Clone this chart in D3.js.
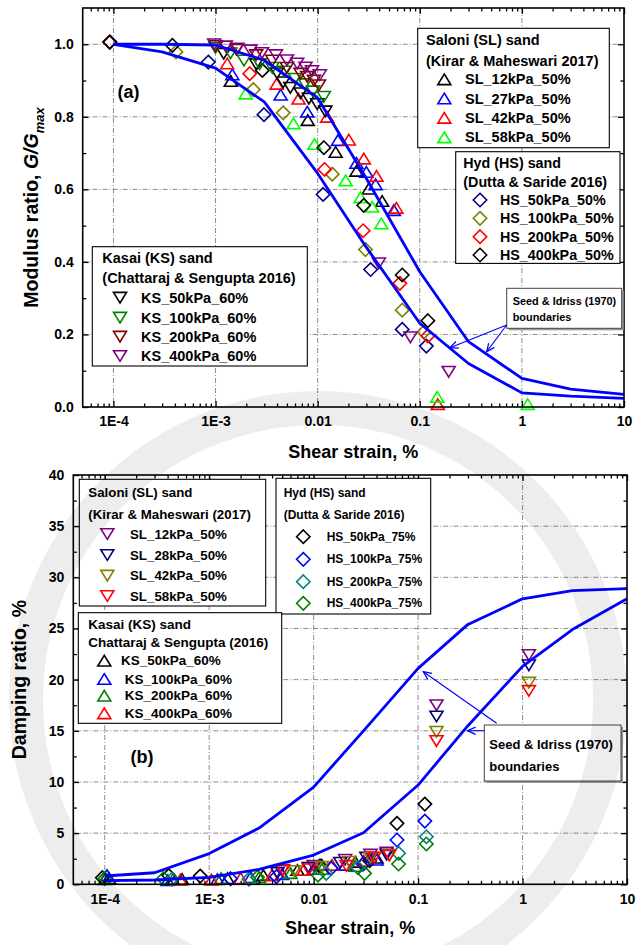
<!DOCTYPE html>
<html>
<head>
<meta charset="utf-8">
<script src="https://cdn.jsdelivr.net/npm/d3@7"></script>
<style>
  body { margin: 0; background: #fff; }
  svg { display: block; font-family: "Liberation Sans", Arial, sans-serif; font-weight: bold; }
</style>
</head>
<body>
<svg id="chart" width="636" height="945"></svg>
<script>
// ---------- axis ticks ----------
const xTickValues = [1e-4, 1e-3, 1e-2, 1e-1, 1, 10];
const xTickLabels = ["1E-4", "1E-3", "0.01", "0.1", "1", "10"];
const gTickValues = [0, 0.2, 0.4, 0.6, 0.8, 1.0];
const gTickLabels = ["0.0", "0.2", "0.4", "0.6", "0.8", "1.0"];
const gMinorTicks = [0.1, 0.3, 0.5, 0.7, 0.9];
const dTickValues = [0, 5, 10, 15, 20, 25, 30, 35, 40];
const dTickLabels = ["0", "5", "10", "15", "20", "25", "30", "35", "40"];
const dMinorTicks = [2.5, 7.5, 12.5, 17.5, 22.5, 27.5, 32.5, 37.5];

// ---------- Seed & Idriss (1970) range for sands ----------
const siStrain = [1e-4, 3e-4, 1e-3, 3e-3, 0.01, 0.03, 0.1, 0.3, 1, 3, 10];
const siGUpper = [1.0, 1.0, 0.998, 0.956, 0.852, 0.63, 0.373, 0.18, 0.079, 0.049, 0.035];
const siGLower = [1.0, 0.979, 0.934, 0.841, 0.644, 0.44, 0.231, 0.12, 0.039, 0.03, 0.024];
const siDUpper = [0.81, 1.13, 3.0, 5.5, 9.5, 15.0, 21.1, 25.4, 27.9, 28.7, 28.9];
const siDLower = [0.35, 0.42, 0.68, 1.46, 2.86, 5.04, 9.7, 15.5, 21.3, 24.9, 27.9];

// ---------- (a) modulus ratio G/Gmax : [strain %, G/Gmax] ----------
const gSL12 = [[1.41e-3, 0.899], [8.0e-3, 0.791], [0.015, 0.703], [0.024, 0.651], [0.0317, 0.602], [0.0428, 0.568]];
const gSL27 = [[1.46e-3, 0.917], [4.34e-3, 0.861], [7.9e-3, 0.814], [0.0158, 0.736], [0.024, 0.673], [0.030, 0.648], [0.0369, 0.614], [0.0557, 0.543]];
const gSL42 = [[1.3e-3, 0.947], [3.96e-3, 0.891], [6.5e-3, 0.85], [0.0124, 0.80], [0.0202, 0.737], [0.0283, 0.685], [0.0377, 0.637], [0.059, 0.549], [0.15, 0.008]];
const gSL58 = [[1.97e-3, 0.864], [5.8e-3, 0.782], [9.3e-3, 0.725], [0.0188, 0.625], [0.0263, 0.578], [0.0342, 0.552], [0.042, 0.506], [0.148, 0.028], [1.14, 0.008]];

const gHS50 = [[9.2e-5, 1.006], [8.5e-4, 0.951], [2.98e-3, 0.806], [0.0113, 0.586], [0.033, 0.379], [0.0673, 0.214], [0.116, 0.168]];
const gHS100 = [[9.2e-5, 1.006], [4.1e-4, 0.979], [2.34e-3, 0.875], [4.6e-3, 0.811], [0.0139, 0.642], [0.0294, 0.434], [0.0673, 0.267], [0.11, 0.207]];
const gHS200 = [[9.2e-5, 1.006], [2.16e-3, 0.919], [0.0117, 0.655], [0.0279, 0.486], [0.0638, 0.341], [0.12, 0.196]];
const gHS400 = [[9.2e-5, 1.006], [3.78e-4, 0.997], [2.87e-3, 0.928], [0.0115, 0.715], [0.0283, 0.556], [0.0673, 0.364], [0.12, 0.238]];

const gKS50 = [[1.2e-3, 0.974], [2.5e-3, 0.945], [4.0e-3, 0.92], [4.6e-3, 0.895], [5.4e-3, 0.88], [6.8e-3, 0.865], [8.2e-3, 0.85], [9.9e-3, 0.835], [0.0119, 0.815]];
const gKS100 = [[1.0e-3, 0.99], [1.4e-3, 0.975], [1.9e-3, 0.955], [2.7e-3, 0.945], [3.6e-3, 0.935], [4.7e-3, 0.925], [6.0e-3, 0.905], [7.5e-3, 0.89], [9.0e-3, 0.87], [0.0115, 0.855]];
const gKS200 = [[1.0e-3, 0.995], [1.6e-3, 0.985], [2.5e-3, 0.97], [3.6e-3, 0.955], [5.0e-3, 0.935], [6.8e-3, 0.919], [7.9e-3, 0.91], [9.2e-3, 0.90], [0.0103, 0.887]];
const gKS400 = [[9.7e-4, 1.0], [1.26e-3, 0.994], [1.64e-3, 0.988], [2.2e-3, 0.983], [2.85e-3, 0.976], [3.9e-3, 0.97], [5.0e-3, 0.956], [6.3e-3, 0.947], [7.6e-3, 0.936], [8.8e-3, 0.926], [0.0105, 0.915], [0.0397, 0.396], [0.081, 0.192], [0.192, 0.097]];

// ---------- (b) damping ratio : [strain %, D %] ----------
const dSL12 = [[5.0e-3, 1.3], [0.01, 1.8], [0.02, 2.4], [0.035, 2.9], [0.05, 3.1], [0.15, 17.5], [1.15, 22.4]];
const dSL28 = [[4.5e-3, 1.1], [9.0e-3, 1.6], [0.018, 2.1], [0.032, 2.6], [0.05, 2.9], [0.15, 16.4], [1.15, 21.4]];
const dSL42 = [[6.5e-3, 1.3], [0.012, 1.7], [0.022, 2.2], [0.035, 2.6], [0.053, 2.86], [0.15, 14.9], [1.15, 19.7]];
const dSL58 = [[5.1e-3, 1.4], [9.0e-3, 1.46], [0.0206, 1.8], [0.038, 2.6], [0.053, 2.8], [0.15, 14.0], [1.15, 18.9]];

const dHS50 = [[9.5e-5, 0.65], [4.1e-4, 0.85], [8.2e-4, 0.8], [0.0115, 1.8], [0.0344, 2.3], [0.0628, 5.96], [0.116, 7.84]];
const dHS100 = [[1.6e-3, 0.55], [4.4e-3, 0.75], [0.0147, 1.56], [0.03, 1.98], [0.0628, 4.33], [0.116, 6.18]];
const dHS200 = [[4.4e-4, 0.5], [2.4e-3, 0.5], [0.0132, 1.07], [0.0265, 1.62], [0.065, 3.03], [0.12, 4.65]];
const dHS400 = [[1.0e-4, 0.55], [3.65e-4, 0.55], [2.9e-3, 0.7], [0.011, 0.9], [0.0307, 1.07], [0.065, 1.98], [0.12, 3.94]];

const dKS50 = [[1.1e-4, 0.6], [5.5e-4, 0.5], [1.5e-3, 0.6], [3.3e-3, 0.9], [7.0e-3, 1.4], [0.012, 1.9], [0.025, 2.2], [0.04, 2.6]];
const dKS100 = [[1.05e-4, 0.9], [4.0e-4, 0.4], [1.2e-3, 0.5], [2.5e-3, 0.7], [5.0e-3, 1.0], [0.01, 1.5], [0.02, 1.9], [0.04, 2.4]];
const dKS200 = [[1.0e-4, 0.5], [4.5e-4, 0.5], [1.3e-3, 0.6], [3.0e-3, 0.7], [6.0e-3, 1.1], [0.012, 1.5], [0.025, 1.8]];
const dKS400 = [[5.3e-4, 0.45], [1.05e-3, 0.45], [2.0e-3, 0.6], [4.0e-3, 0.9], [8.0e-3, 1.4], [0.015, 1.9], [0.03, 2.3]];

// ---------- series tables ----------
const seriesA = [
  { label: "SL_12kPa_50%", shape: "up", color: "#000000", data: gSL12 },
  { label: "SL_27kPa_50%", shape: "up", color: "#0000ff", data: gSL27 },
  { label: "SL_42kPa_50%", shape: "up", color: "#ff0000", data: gSL42 },
  { label: "SL_58kPa_50%", shape: "up", color: "#00ff00", data: gSL58 },
  { label: "HS_50kPa_50%", shape: "diamond", color: "#000080", data: gHS50 },
  { label: "HS_100kPa_50%", shape: "diamond", color: "#808000", data: gHS100 },
  { label: "HS_200kPa_50%", shape: "diamond", color: "#ff0000", data: gHS200 },
  { label: "HS_400kPa_50%", shape: "diamond", color: "#000000", data: gHS400 },
  { label: "KS_50kPa_60%", shape: "down", color: "#000000", data: gKS50 },
  { label: "KS_100kPa_60%", shape: "down", color: "#008000", data: gKS100 },
  { label: "KS_200kPa_60%", shape: "down", color: "#800000", data: gKS200 },
  { label: "KS_400kPa_60%", shape: "down", color: "#800080", data: gKS400 }
];
const seriesB = [
  { label: "KS_50kPa_60%", shape: "up", color: "#000000", data: dKS50 },
  { label: " KS_100kPa_60%", shape: "up", color: "#0000ff", data: dKS100 },
  { label: " KS_200kPa_60%", shape: "up", color: "#008000", data: dKS200 },
  { label: " KS_400kPa_60%", shape: "up", color: "#ff0000", data: dKS400 },
  { label: "HS_50kPa_75%", shape: "diamond", color: "#000000", data: dHS50 },
  { label: "HS_100kPa_75%", shape: "diamond", color: "#0000ff", data: dHS100 },
  { label: "HS_200kPa_75%", shape: "diamond", color: "#008080", data: dHS200 },
  { label: "HS_400kPa_75%", shape: "diamond", color: "#008000", data: dHS400 },
  { label: "SL_12kPa_50%", shape: "down", color: "#800080", data: dSL12 },
  { label: "SL_28kPa_50%", shape: "down", color: "#000080", data: dSL28 },
  { label: "SL_42kPa_50%", shape: "down", color: "#808000", data: dSL42 },
  { label: "SL_58kPa_50%", shape: "down", color: "#ff0000", data: dSL58 }
];

// ---------- helpers ----------
const svg = d3.select("#chart");
const CURVE = "#0000ff";

const shapes = {
  up: "M0,-5.3L6.5,5.3L-6.5,5.3Z",
  down: "M0,5.3L6.5,-5.3L-6.5,-5.3Z",
  diamond: "M0,-6.7L6.7,0L0,6.7L-6.7,0Z"
};

svg.append("defs").append("marker")
  .attr("id", "arrow").attr("viewBox", "0 0 10 10")
  .attr("refX", 9).attr("refY", 5)
  .attr("markerWidth", 9).attr("markerHeight", 9)
  .attr("markerUnits", "userSpaceOnUse")
  .attr("orient", "auto")
  .append("path").attr("d", "M0,1L9,5L0,9").attr("fill", "none")
  .attr("stroke", CURVE).attr("stroke-width", 1.4);

function minorLogTicks(lo, hi) {
  const out = [];
  for (let e = -5; e <= 1; e++) {
    for (let k = 2; k <= 9; k++) {
      const v = k * Math.pow(10, e);
      if (v > lo * 1.01 && v < hi * 0.99) out.push(v);
    }
  }
  return out;
}

function styleAxis(sel, fs) {
  sel.select(".domain").remove();
  sel.attr("font-size", null).attr("font-family", null);
  sel.selectAll("line").attr("stroke", "#000").attr("stroke-width", 1.3);
  sel.selectAll("text").attr("font-size", fs).attr("fill", "#000");
}

function drawPanel(p) {
  const g = svg.append("g");
  const x = d3.scaleLog().domain([5e-5, 10]).range([p.left, p.right]);
  const y = d3.scaleLinear().domain(p.yDomain).range([p.bottom, p.top]);

  // dash-dot grid at major ticks
  const grid = g.append("g").attr("stroke", "#8c8c8c").attr("stroke-width", 1)
    .attr("stroke-dasharray", "5,2,1,2");
  grid.selectAll(".gx").data(xTickValues.filter(v => x(v) < p.right - 1)).join("line")
    .attr("x1", d => x(d)).attr("x2", d => x(d)).attr("y1", p.top).attr("y2", p.bottom);
  grid.selectAll(".gy").data(p.yTicks.filter(v => y(v) > p.top + 1 && y(v) < p.bottom - 1)).join("line")
    .attr("x1", p.left).attr("x2", p.right).attr("y1", d => y(d)).attr("y2", d => y(d));

  // data markers
  p.series.forEach(s => {
    g.append("g").selectAll("path").data(s.data).join("path")
      .attr("d", shapes[s.shape])
      .attr("transform", d => `translate(${x(d[0])},${y(d[1])})`)
      .attr("fill", "none").attr("stroke", s.color).attr("stroke-width", 1.6);
  });

  // Seed & Idriss boundary curves
  const line = d3.line().x(d => x(d[0])).y(d => y(d[1]));
  p.curves.forEach(c => {
    g.append("path").datum(siStrain.map((s, i) => [s, c[i]]))
      .attr("d", line).attr("fill", "none")
      .attr("stroke", CURVE).attr("stroke-width", 2.8).attr("stroke-linejoin", "round");
  });

  // axes: inward ticks on all four sides
  const minor = minorLogTicks(5e-5, 10);
  const bottom = g.append("g").attr("transform", `translate(0,${p.bottom})`)
    .call(d3.axisBottom(x).tickValues(xTickValues).tickFormat((d, i) => xTickLabels[i])
      .tickSizeInner(-6).tickSizeOuter(0).tickPadding(9.5));
  styleAxis(bottom, 14);
  const bottomMinor = g.append("g").attr("transform", `translate(0,${p.bottom})`)
    .call(d3.axisBottom(x).tickValues(minor).tickFormat("").tickSizeInner(-3.5).tickSizeOuter(0));
  styleAxis(bottomMinor, 14);
  const top = g.append("g").attr("transform", `translate(0,${p.top})`)
    .call(d3.axisTop(x).tickValues(xTickValues).tickFormat("").tickSizeInner(-6).tickSizeOuter(0));
  styleAxis(top, 14);
  const topMinor = g.append("g").attr("transform", `translate(0,${p.top})`)
    .call(d3.axisTop(x).tickValues(minor).tickFormat("").tickSizeInner(-3.5).tickSizeOuter(0));
  styleAxis(topMinor, 14);

  const left = g.append("g").attr("transform", `translate(${p.left},0)`)
    .call(d3.axisLeft(y).tickValues(p.yTicks).tickFormat((d, i) => p.yLabels[i])
      .tickSizeInner(-6).tickSizeOuter(0).tickPadding(9));
  styleAxis(left, 14);
  const leftMinor = g.append("g").attr("transform", `translate(${p.left},0)`)
    .call(d3.axisLeft(y).tickValues(p.yMinor).tickFormat("").tickSizeInner(-3.5).tickSizeOuter(0));
  styleAxis(leftMinor, 14);
  const right = g.append("g").attr("transform", `translate(${p.right},0)`)
    .call(d3.axisRight(y).tickValues(p.yTicks).tickFormat("").tickSizeInner(-6).tickSizeOuter(0));
  styleAxis(right, 14);
  const rightMinor = g.append("g").attr("transform", `translate(${p.right},0)`)
    .call(d3.axisRight(y).tickValues(p.yMinor).tickFormat("").tickSizeInner(-3.5).tickSizeOuter(0));
  styleAxis(rightMinor, 14);

  // frame
  g.append("rect").attr("x", p.left).attr("y", p.top)
    .attr("width", p.right - p.left).attr("height", p.bottom - p.top)
    .attr("fill", "none").attr("stroke", "#000").attr("stroke-width", 1.6);

  // axis titles
  g.append("text").attr("x", (p.left + p.right) / 2).attr("y", p.xTitleY)
    .attr("text-anchor", "middle").attr("font-size", 18).text("Shear strain, %");
  const yt = g.append("text")
    .attr("transform", `translate(${p.yTitleX},${(p.top + p.bottom) / 2}) rotate(-90)`)
    .attr("text-anchor", "middle").attr("font-size", 19.5);
  p.yTitle(yt);

  // panel tag
  g.append("text").attr("x", p.tag[0]).attr("y", p.tag[1]).attr("text-anchor", "middle")
    .attr("dominant-baseline", "central").attr("font-size", 18).text(p.tag[2]);

  return g;
}

function drawLegend(g, box, titles, entries, fs) {
  const lg = g.append("g");
  lg.append("rect").attr("x", box.x).attr("y", box.y).attr("width", box.w).attr("height", box.h)
    .attr("fill", "#fff").attr("stroke", "#000").attr("stroke-width", 1.1);
  titles.forEach((t, i) => {
    lg.append("text").attr("x", box.tx).attr("y", box.ty[i]).attr("dominant-baseline", "central")
      .attr("font-size", fs).text(t);
  });
  entries.forEach((s, i) => {
    lg.append("path").attr("d", shapes[s.shape])
      .attr("transform", `translate(${box.mx},${box.ey[i]})`)
      .attr("fill", "none").attr("stroke", s.color).attr("stroke-width", 1.6);
    lg.append("text").attr("x", box.lx).attr("y", box.ey[i]).attr("dominant-baseline", "central")
      .attr("font-size", fs).style("white-space", "pre").text(s.label);
  });
}

function drawNote(g, box, lines, fs, arrows) {
  const ng = g.append("g");
  ng.append("rect").attr("x", box.x + 2).attr("y", box.y + 2).attr("width", box.w).attr("height", box.h)
    .attr("fill", "#9a9a9a");
  ng.append("rect").attr("x", box.x).attr("y", box.y).attr("width", box.w).attr("height", box.h)
    .attr("fill", "#fff").attr("stroke", "#444").attr("stroke-width", 1);
  lines.forEach((t, i) => {
    ng.append("text").attr("x", box.tx).attr("y", box.ty[i]).attr("dominant-baseline", "central")
      .attr("font-size", fs).text(t);
  });
  arrows.forEach(a => {
    ng.append("line").attr("x1", a[0]).attr("y1", a[1]).attr("x2", a[2]).attr("y2", a[3])
      .attr("stroke", CURVE).attr("stroke-width", 1.1).attr("marker-end", "url(#arrow)");
  });
}

// ---------- panel (a): modulus reduction ----------
const gA = drawPanel({
  left: 82.7, right: 624, top: 8, bottom: 407,
  yDomain: [0, 1.1], yTicks: gTickValues, yLabels: gTickLabels, yMinor: gMinorTicks,
  series: seriesA, curves: [siGUpper, siGLower],
  xTitleY: 458, yTitleX: 38,
  tag: [128.5, 92, "(a)"],
  yTitle: t => {
    t.append("tspan").text("Modulus ratio, ");
    t.append("tspan").attr("font-style", "italic").text("G/G");
    t.append("tspan").attr("font-style", "italic").attr("font-size", 13)
      .attr("dy", 6).text("max");
  }
});

drawLegend(gA, { x: 417.7, y: 28.3, w: 191.6, h: 119.4, tx: 426, ty: [40, 61], mx: 444.3, lx: 465,
  ey: [79.3, 98.5, 117.8, 137.3] },
  ["Saloni (SL) sand", "(Kirar & Maheswari 2017)"], seriesA.slice(0, 4), 14.5);
drawLegend(gA, { x: 455.7, y: 151.7, w: 164.3, h: 111.7, tx: 463.3, ty: [162.5, 182], mx: 480, lx: 500,
  ey: [200, 218.3, 236.7, 255] },
  ["Hyd (HS) sand", "(Dutta & Saride 2016)"], seriesA.slice(4, 8), 14.3);
drawLegend(gA, { x: 92.3, y: 246.7, w: 215, h: 119.3, tx: 102.3, ty: [258.3, 278.3], mx: 120, lx: 141,
  ey: [297.7, 317.7, 336.7, 356] },
  ["Kasai (KS) sand", "(Chattaraj & Sengupta 2016)"], seriesA.slice(8, 12), 14.5);
drawNote(gA, { x: 506.7, y: 288.3, w: 115, h: 40, tx: 512.7, ty: [301, 317.3] },
  ["Seed & Idriss (1970)", "boundaries"], 10.9,
  [[506.7, 325, 450, 347.7], [506.7, 325, 486.7, 351.7]]);

// ---------- panel (b): damping ratio ----------
const gB = drawPanel({
  left: 73.3, right: 627, top: 475, bottom: 884.3,
  yDomain: [0, 40], yTicks: dTickValues, yLabels: dTickLabels, yMinor: dMinorTicks,
  series: seriesB, curves: [siDUpper, siDLower],
  xTitleY: 934, yTitleX: 26,
  tag: [142, 757, "(b)"],
  yTitle: t => t.text("Damping ratio, %")
});

drawLegend(gB, { x: 79.3, y: 479.3, w: 186.4, h: 126.7, tx: 88.3, ty: [492.7, 514], mx: 107.3, lx: 130,
  ey: [534, 555, 575.7, 596] },
  ["Saloni (SL) sand", "(Kirar & Maheswari (2017)"], seriesB.slice(8, 12), 13.3);
drawLegend(gB, { x: 276, y: 478.3, w: 154.7, h: 135.7, tx: 283.7, ty: [492.7, 515], mx: 303.3, lx: 326.7,
  ey: [536.7, 559.3, 581.7, 603.3] },
  ["Hyd (HS) sand", "(Dutta & Saride 2016)"], seriesB.slice(4, 8), 12);
drawLegend(gB, { x: 78.3, y: 612.7, w: 203.4, h: 110.6, tx: 88.3, ty: [624.3, 642.3], mx: 104.3, lx: 121,
  ey: [660.7, 679, 695.7, 713.3] },
  ["Kasai (KS) sand", "Chattaraj & Sengupta (2016)"], seriesB.slice(0, 4), 13.5);
drawNote(gB, { x: 484.3, y: 725, w: 136.7, h: 56, tx: 489.3, ty: [744, 766.7] },
  ["Seed & Idriss (1970)", "boundaries"], 13,
  [[496.7, 723.3, 423.3, 671.7], [484.3, 730.7, 467.5, 730.7]]);

// faint circular seal printed over the lower figure
svg.append("circle").attr("cx", 318).attr("cy", 700).attr("r", 292)
  .attr("fill", "none").attr("stroke", "#000").attr("stroke-opacity", 0.07)
  .attr("stroke-width", 34).style("pointer-events", "none");
</script>
</body>
</html>
